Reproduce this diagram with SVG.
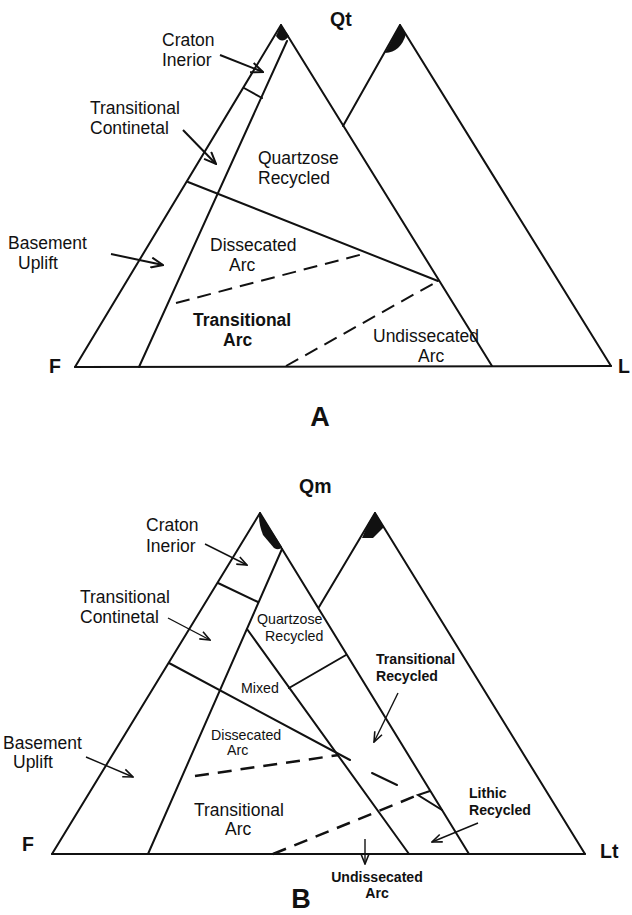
<svg xmlns="http://www.w3.org/2000/svg" width="632" height="915" viewBox="0 0 632 915">
<style>
.ln{stroke:#111;stroke-width:2;fill:none;stroke-linecap:round}
.ds{stroke:#111;stroke-width:2;fill:none;stroke-dasharray:14 8}
.dsb{stroke:#111;stroke-width:2.5;fill:none;stroke-dasharray:14 9}
.ar{stroke:#111;stroke-width:2;fill:none}
.arb{stroke:#111;stroke-width:1.4;fill:none}
.blob{fill:#111;stroke:none}
text{font-family:"Liberation Sans",Arial,sans-serif;fill:#111}
.t{font-size:17.5px}
.s{font-size:14.2px}
.sb{font-size:14.1px;font-weight:bold}
.b{font-size:17.5px;font-weight:bold}
.ax{font-size:19.5px;font-weight:bold}
.big{font-size:27px;font-weight:bold}
</style>
<defs>
<marker id="ha" viewBox="0 0 14 12" refX="13" refY="6" markerWidth="14" markerHeight="12" markerUnits="userSpaceOnUse" orient="auto">
<path d="M1,1 L13,6 L1,11" fill="none" stroke="#111" stroke-width="2"/>
</marker>
<marker id="hb" viewBox="0 0 12 10" refX="11" refY="5" markerWidth="12" markerHeight="10" markerUnits="userSpaceOnUse" orient="auto">
<path d="M1,1 L11,5 L1,9" fill="none" stroke="#111" stroke-width="1.6"/>
</marker>
</defs>

<g id="diagramA">
<g id="A-frame">
<line class="ln" x1="281" y1="25" x2="75" y2="367"/>
<line class="ln" x1="281" y1="25" x2="492" y2="366"/>
<line class="ln" x1="287" y1="41" x2="139" y2="367"/>
<line class="ln" x1="75" y1="367" x2="611" y2="366"/>
<line class="ln" x1="400" y1="25" x2="343" y2="126"/>
<line class="ln" x1="400" y1="25" x2="611" y2="366"/>
<path class="blob" d="M281,25 L276,36 Q282,45 289,36 Z"/>
<path class="blob" d="M400,25 L385,53 Q401,52 406,34 Z"/>
</g>
<g id="A-boundaries">
<line class="ln" x1="244" y1="88" x2="262" y2="98"/>
<line class="ln" x1="188" y1="182" x2="438" y2="281"/>
<line class="ds" x1="176" y1="303" x2="367" y2="253"/>
<line class="ds" x1="286" y1="366" x2="438" y2="281"/>
</g>
<g id="A-arrows">
<line class="ar" x1="220" y1="55" x2="263" y2="72" marker-end="url(#ha)"/>
<line class="ar" x1="183" y1="130" x2="216" y2="164" marker-end="url(#ha)"/>
<line class="ar" x1="111" y1="254" x2="163" y2="265" marker-end="url(#ha)"/>
</g>
<g id="A-labels">
<text class="ax" x="330" y="26">Qt</text>
<text class="ax" x="49" y="373">F</text>
<text class="ax" x="618" y="373">L</text>
<text class="big" x="320" y="426" text-anchor="middle">A</text>
<text class="t" x="162" y="46">Craton</text>
<text class="t" x="162" y="66">Inerior</text>
<text class="t" x="90" y="114">Transitional</text>
<text class="t" x="90" y="134">Continetal</text>
<text class="t" x="8" y="249">Basement</text>
<text class="t" x="18" y="269">Uplift</text>
<text class="t" x="258" y="164">Quartzose</text>
<text class="t" x="258" y="184">Recycled</text>
<text class="t" x="210" y="251">Dissecated</text>
<text class="t" x="229" y="271">Arc</text>
<text class="b" x="193" y="326">Transitional</text>
<text class="b" x="223" y="346">Arc</text>
<text class="t" x="373" y="342">Undissecated</text>
<text class="t" x="418" y="362">Arc</text>
</g>
</g>

<g id="diagramB">
<g id="B-frame">
<line class="ln" x1="260" y1="513" x2="52" y2="854"/>
<line class="ln" x1="260" y1="513" x2="469" y2="854"/>
<line class="ln" x1="282" y1="549" x2="148" y2="854"/>
<line class="ln" x1="52" y1="854" x2="585" y2="854"/>
<line class="ln" x1="375" y1="513" x2="319" y2="607"/>
<line class="ln" x1="375" y1="513" x2="585" y2="854"/>
<path class="blob" d="M260,513 L282,547 Q279,551 274,548 L263,535 Q259,525 259,516 Z"/>
<path class="blob" d="M375,512 L384,527 L373,538 L362,538 L368,524 Z"/>
</g>
<g id="B-boundaries">
<line class="ln" x1="218" y1="583" x2="258" y2="602"/>
<line class="ln" x1="247" y1="629" x2="409" y2="854"/>
<line class="ln" x1="289" y1="688" x2="346" y2="655"/>
<line class="ln" x1="169" y1="663" x2="350" y2="760"/>
<line class="ln" x1="372" y1="773" x2="397" y2="785"/>
<polyline class="ln" points="430,791 418,795 442,810"/>
<line class="dsb" x1="195" y1="776" x2="339" y2="755"/>
<line class="dsb" x1="273" y1="854" x2="418" y2="795"/>
</g>
<g id="B-arrows">
<line class="arb" x1="205" y1="544" x2="247" y2="565" marker-end="url(#hb)"/>
<line class="arb" x1="168" y1="618" x2="210" y2="640" marker-end="url(#hb)"/>
<line class="arb" x1="86" y1="757" x2="133" y2="777" marker-end="url(#hb)"/>
<line class="arb" x1="398" y1="693" x2="374" y2="742" marker-end="url(#hb)"/>
<line class="arb" x1="478" y1="823" x2="432" y2="842" marker-end="url(#hb)"/>
<line class="arb" x1="365" y1="839" x2="365" y2="864" marker-end="url(#hb)"/>
</g>
<g id="B-labels">
<text class="ax" x="299" y="493">Qm</text>
<text class="ax" x="22" y="851">F</text>
<text class="ax" x="600" y="858">Lt</text>
<text class="big" x="301" y="908" text-anchor="middle">B</text>
<text class="t" x="146" y="531">Craton</text>
<text class="t" x="146" y="552">Inerior</text>
<text class="t" x="80" y="603">Transitional</text>
<text class="t" x="80" y="623">Continetal</text>
<text class="t" x="3" y="749">Basement</text>
<text class="t" x="13" y="768">Uplift</text>
<text class="s" x="257" y="624">Quartzose</text>
<text class="s" x="265" y="641">Recycled</text>
<text class="s" x="241" y="693">Mixed</text>
<text class="s" x="211" y="740">Dissecated</text>
<text class="s" x="227" y="755">Arc</text>
<text class="t" x="194" y="816">Transitional</text>
<text class="t" x="225" y="835">Arc</text>
<text class="sb" x="376" y="664">Transitional</text>
<text class="sb" x="376" y="681">Recycled</text>
<text class="sb" x="469" y="798">Lithic</text>
<text class="sb" x="469" y="815">Recycled</text>
<text class="sb" x="377" y="882" text-anchor="middle">Undissecated</text>
<text class="sb" x="377" y="898" text-anchor="middle">Arc</text>
</g>
</g>
</svg>
